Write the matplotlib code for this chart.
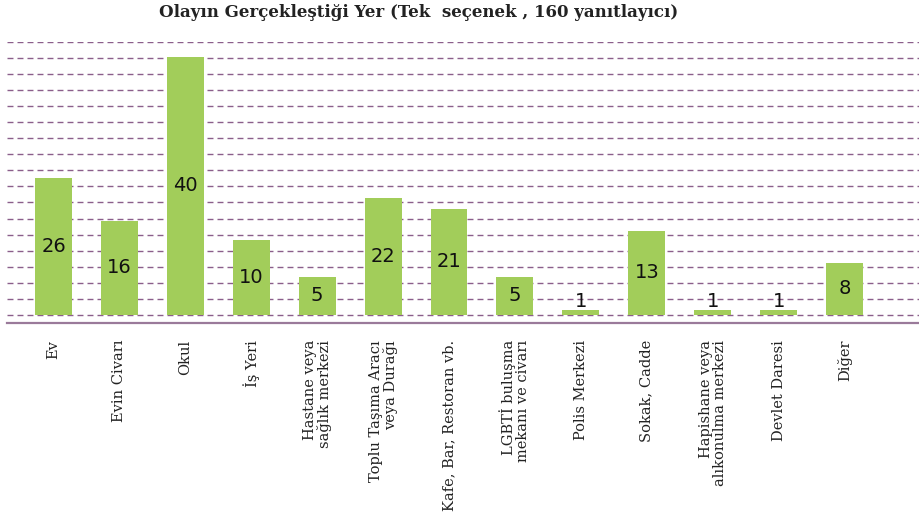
"""Olayın Gerçekleştiği Yer - bar chart."""

import matplotlib
matplotlib.use("Agg")
import matplotlib.pyplot as plt

categories = [
    "Ev", "Evin Civarı", "Okul", "İş Yeri", "Hastane veya\nsağlık merkezi",
    "Toplu Taşıma Aracı\nveya Durağı", "Kafe, Bar, Restoran vb.",
    "LGBTİ buluşma\nmekanı ve civarı", "Polis Merkezi", "Sokak, Cadde",
    "Hapishane veya\nalıkonulma merkezi", "Devlet Daresi", "Diğer",
]
# values printed on the bars
counts = [26, 16, 40, 10, 5, 22, 21, 5, 1, 13, 1, 1, 8]
# bar heights as drawn in the picture (in grid steps)
bar_heights = [8.55, 5.85, 16.1, 4.65, 2.35, 7.25, 6.6, 2.35, 0.3, 5.25, 0.3, 0.3, 3.25]

GREEN = "#a2cd5a"
GRID = "#8b5f8b"
AXIS = "#9a7a9a"


def main():
    fig = plt.figure(figsize=(9.19, 5.17), dpi=100)
    ax = fig.add_axes([0.0073, 0.3747, 0.9927, 0.5435])

    x = list(range(len(categories)))
    for k in range(18):
        ax.axhline(k, color=GRID, lw=1.0, ls=(0, (4.3, 2.9)), zorder=1)
    ax.bar(x, bar_heights, width=0.56, color=GREEN, zorder=2)
    ax.axhline(-0.54, color=AXIS, lw=1.6, zorder=3, clip_on=False)

    for xi, h, c in zip(x, bar_heights, counts):
        ax.text(xi, max(h / 2, 0.85), str(c), ha="center", va="center",
                fontsize=14, fontfamily="DejaVu Sans",
                color="#111111", zorder=4)

    ax.set_xlim(-0.71, 13.13)
    ax.set_ylim(-0.54, 17.0)
    ax.set_xticks(x)
    ax.set_xticklabels(categories, rotation=90, ha="center", va="top",
                       multialignment="right", fontsize=10.5, linespacing=1.0,
                       fontfamily="DejaVu Serif", color="#222222")
    ax.tick_params(axis="x", length=0, pad=12)
    ax.set_yticks([])
    for s in ax.spines.values():
        s.set_visible(False)

    fig.text(0.456, 0.975, "Olayın Gerçekleştiği Yer (Tek  seçenek , 160 yanıtlayıcı)",
             ha="center", va="center", fontsize=12, fontweight="bold",
             fontfamily="DejaVu Serif", color="#222222")

    fig.savefig("out.png", dpi=100)


if __name__ == "__main__":
    main()
